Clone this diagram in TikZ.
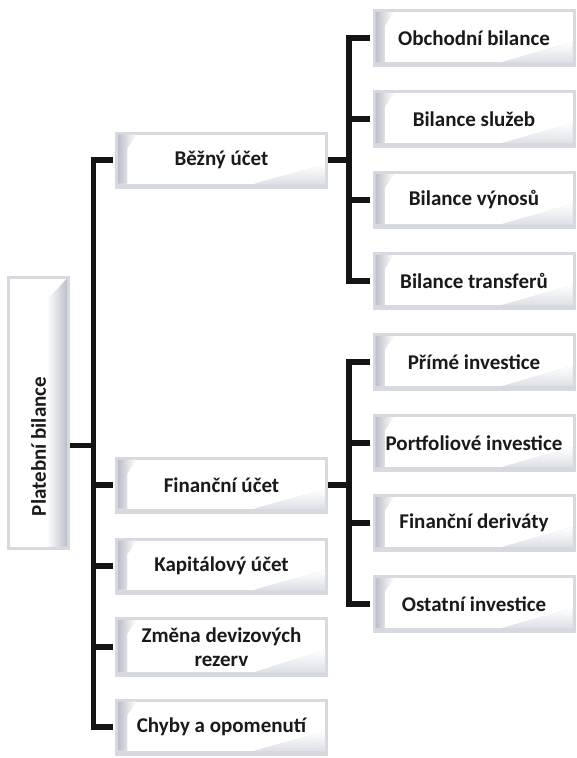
\documentclass[tikz,border=0pt]{standalone}
\usepackage{fontspec}
\usepackage{graphicx}
\setmainfont{Carlito}
\definecolor{bevframe}{HTML}{D6D9E0}
\definecolor{bevdark}{HTML}{BCBFC9}
\definecolor{bevmid}{HTML}{DDE0E6}
\definecolor{txt}{HTML}{1A1A1A}
\tikzset{
  bev/.style={rectangle, inner sep=0pt, align=center, text=txt,
    font=\fontsize{21}{24}\selectfont\bfseries, fill=bevframe,
    path picture={
      \coordinate (tl) at ([xshift=3pt,yshift=-3pt]path picture bounding box.north west);
      \coordinate (br) at ([xshift=-3pt,yshift=5pt]path picture bounding box.south east);
      \fill[white] (tl) rectangle (br);
      \fill[top color=white, bottom color=bevmid]
        ([yshift=-30pt]br |- tl) -- (br) -- ([xshift=-70pt]br) -- cycle;
      \fill[left color=bevdark, right color=white]
        (tl) -- ([xshift=18pt]tl) -- ([xshift=9pt,yshift=-14pt]tl) --
        ([xshift=9pt]tl |- br) -- (tl |- br) -- cycle;
    }},
  rootbox/.style={rectangle, inner sep=0pt, text=txt,
    font=\fontsize{21}{24}\selectfont\bfseries, fill=bevframe,
    path picture={
      \coordinate (tl) at ([xshift=3pt,yshift=-3pt]path picture bounding box.north west);
      \coordinate (br) at ([xshift=-3pt,yshift=3pt]path picture bounding box.south east);
      \fill[white] (tl) rectangle (br);
      \fill[left color=white, right color=bevdark]
        ([xshift=-20pt]br) -- ([xshift=-20pt,yshift=-22pt]br |- tl) --
        (br |- tl) -- (br) -- cycle;
    }},
  lvone/.style={bev, minimum width=213pt, minimum height=57pt},
  lvtwo/.style={bev, minimum width=203pt, minimum height=58pt},
  conn/.style={line width=5.5pt, draw=black!92, line cap=butt, line join=miter}
}
\begin{document}
\begin{tikzpicture}[x=1pt,y=-1pt]
\useasboundingbox (0,0) rectangle (576,758);
% root
\node[rootbox, minimum width=63pt, minimum height=274pt] (pb) at (38.5,412.5) {\rotatebox{90}{Platební bilance\hspace*{68pt}}};
% level one
\node[lvone] (be) at (221.5,160) {Běžný účet};
\node[lvone] (fu) at (221.5,485) {Finanční účet};
\node[lvone] (ku) at (221.5,566) {Kapitálový účet};
\node[lvone, minimum height=60pt] (zd) at (221.5,647) {Změna devizových\\rezerv};
\node[lvone] (ch) at (221.5,727) {Chyby a opomenutí};
% level two, current account
\node[lvtwo] (ob) at (474,38) {Obchodní bilance};
\node[lvtwo] (bs) at (474,119) {Bilance služeb};
\node[lvtwo] (bv) at (474,200) {Bilance výnosů};
\node[lvtwo] (bt) at (474,281) {Bilance transferů};
% level two, financial account
\node[lvtwo] (pi) at (474,362) {Přímé investice};
\node[lvtwo] (po) at (474,443) {Portfoliové investice};
\node[lvtwo] (fd) at (474,523) {Finanční deriváty};
\node[lvtwo] (oi) at (474,604) {Ostatní investice};
% connectors: root
\coordinate (trunk) at (93.5,0);
\draw[conn] ([yshift=-33pt]pb.east) -- ([yshift=-33pt]pb.east -| trunk);
\draw[conn] ([xshift=-2pt]be.west) -- (be.west -| trunk) -- (ch.west -| trunk) -- ([xshift=-2pt]ch.west);
\foreach \n in {fu,ku,zd}{
  \draw[conn] ([xshift=-2pt]\n.west) -- (\n.west -| trunk);
}
% connectors: current account
\coordinate (trunkb) at (349,0);
\draw[conn] (be.east) -- (be.east -| trunkb);
\draw[conn] ([xshift=-2pt]ob.west) -- (ob.west -| trunkb) -- (bt.west -| trunkb) -- ([xshift=-2pt]bt.west);
\foreach \n in {bs,bv}{
  \draw[conn] ([xshift=-2pt]\n.west) -- (\n.west -| trunkb);
}
% connectors: financial account
\draw[conn] (fu.east) -- (fu.east -| trunkb);
\draw[conn] ([xshift=-2pt]pi.west) -- (pi.west -| trunkb) -- (oi.west -| trunkb) -- ([xshift=-2pt]oi.west);
\foreach \n in {po,fd}{
  \draw[conn] ([xshift=-2pt]\n.west) -- (\n.west -| trunkb);
}
\end{tikzpicture}
\end{document}
